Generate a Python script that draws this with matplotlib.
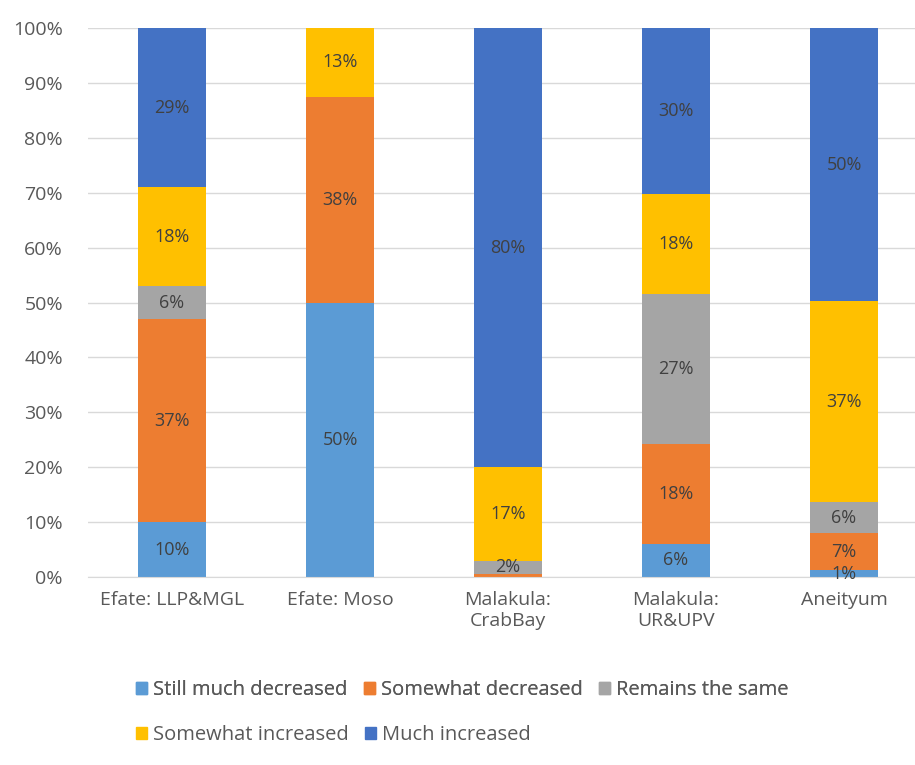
import matplotlib.pyplot as plt
from matplotlib.patches import Patch
import numpy as np

categories = ['Efate: LLP&MGL', 'Efate: Moso', 'Malakula:\nCrabBay', 'Malakula:\nUR&UPV', 'Aneityum']
series_names = ['Still much decreased', 'Somewhat decreased', 'Remains the same',
                'Somewhat increased', 'Much increased']
still_much_decreased = [10, 50, 0, 6.06, 1.2]
somewhat_decreased = [37, 37.5, 0.6, 18.18, 6.8]
remains_same = [6, 0, 2.4, 27.27, 5.6]
somewhat_increased = [18, 12.5, 17, 18.18, 36.6]
much_increased = [29, 0, 80, 30.30, 49.8]
colors = ['#5B9BD5', '#ED7D31', '#A5A5A5', '#FFC000', '#4472C4']

plt.rcParams['font.family'] = ['Open Sans', 'DejaVu Sans']


def main():
    series = [still_much_decreased, somewhat_decreased, remains_same,
              somewhat_increased, much_increased]
    fig = plt.figure(figsize=(9.15, 7.65), dpi=100)
    ax = fig.add_axes([88 / 915, 188 / 765, 840 / 915, 549 / 765])
    x = np.arange(len(categories))
    bottom = np.zeros(len(categories))
    for vals, name, col in zip(series, series_names, colors):
        vals = np.array(vals, dtype=float)
        ax.bar(x, vals, 0.4, bottom=bottom, color=col, label=name, zorder=2)
        for xi, v, b in zip(x, vals, bottom):
            if v >= 1:
                ax.text(xi, b + v / 2, f'{int(v + 0.5)}%', ha='center', va='center',
                        fontsize=13, color='#404040', zorder=3)
        bottom += vals

    ax.set_xlim(-0.5, 4.5)
    ax.set_ylim(0, 100)
    ax.set_yticks(np.arange(0, 101, 10))
    ax.set_yticklabels([f'{t}%' for t in range(0, 101, 10)])
    ax.set_xticks(x)
    ax.set_xticklabels(categories, linespacing=1.25)
    ax.tick_params(axis='both', length=0, labelsize=14, colors='#595959')
    ax.tick_params(axis='x', pad=10)
    ax.tick_params(axis='y', pad=18)
    ax.grid(axis='y', color='#D9D9D9', linewidth=1, zorder=0)
    for s in ['top', 'right', 'left']:
        ax.spines[s].set_visible(False)
    ax.spines['bottom'].set_color('#D9D9D9')

    handles = [Patch(color=c) for c in colors]
    leg_kw = dict(frameon=False, fontsize=14.5, handlelength=0.55, handleheight=0.55,
                  handletextpad=0.3, columnspacing=0.8, labelcolor='#595959',
                  borderaxespad=0)
    leg1 = fig.legend(handles[:3], series_names[:3], ncol=3, loc='center left',
                      bbox_to_anchor=(128 / 915, 1 - 690 / 765), **leg_kw)
    fig.legend(handles[3:], series_names[3:], ncol=2, loc='center left',
               bbox_to_anchor=(128 / 915, 1 - 735 / 765), **leg_kw)
    fig.add_artist(leg1)

    fig.savefig('out.png', dpi=100)


if __name__ == '__main__':
    main()
